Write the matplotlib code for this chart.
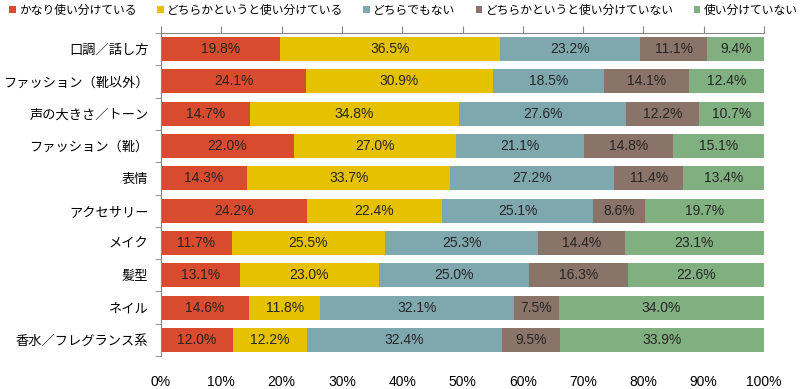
import numpy as np
import matplotlib.pyplot as plt

plt.rcParams['font.family'] = ['Noto Sans CJK JP', 'DejaVu Sans']

# カテゴリ（上から順）
categories = ['口調／話し方', 'ファッション（靴以外）', '声の大きさ／トーン', 'ファッション（靴）',
              '表情', 'アクセサリー', 'メイク', '髪型', 'ネイル', '香水／フレグランス系']

series_names = ['かなり使い分けている', 'どちらかというと使い分けている', 'どちらでもない',
                'どちらかというと使い分けていない', '使い分けていない']

kanari = [19.8, 24.1, 14.7, 22.0, 14.3, 24.2, 11.7, 13.1, 14.6, 12.0]
dochira_yes = [36.5, 30.9, 34.8, 27.0, 33.7, 22.4, 25.5, 23.0, 11.8, 12.2]
dochira_demo = [23.2, 18.5, 27.6, 21.1, 27.2, 25.1, 25.3, 25.0, 32.1, 32.4]
dochira_no = [11.1, 14.1, 12.2, 14.8, 11.4, 8.6, 14.4, 16.3, 7.5, 9.5]
not_use = [9.4, 12.4, 10.7, 15.1, 13.4, 19.7, 23.1, 22.6, 34.0, 33.9]

colors = ['#D84B2E', '#E5C100', '#7FA8AE', '#8A7368', '#80B080']

values = [kanari, dochira_yes, dochira_demo, dochira_no, not_use]

fig = plt.figure(figsize=(8, 3.89), dpi=100)
ax = fig.add_axes([161 / 800, 33 / 389, (764 - 161) / 800, (356 - 33) / 389])

y = np.arange(len(categories))
left = np.zeros(len(categories))
for name, vals, c in zip(series_names, values, colors):
    vals = np.array(vals)
    ax.barh(y, vals, left=left, height=0.74, color=c, label=name)
    for yi, l, v in zip(y, left, vals):
        ax.text(l + v / 2, yi, f'{v:.1f}%', ha='center', va='center',
                fontsize=10, color='#262626', family=['Liberation Sans'])
    left += vals

ax.set_xlim(0, 100)
ax.set_ylim(len(categories) - 0.5, -0.5)
ax.set_yticks(y)
ax.set_yticklabels(categories, fontsize=9.5)
ax.set_yticks(np.arange(len(categories) + 1) - 0.5, minor=True)
ax.tick_params(axis='y', which='major', length=0, pad=9)
ax.tick_params(axis='y', which='minor', length=4, color='#868686')

ax.set_xticks(np.arange(0, 101, 10))
ax.set_xticklabels([f'{t}%' for t in range(0, 101, 10)], fontsize=10, family=['Liberation Sans'])
ax.tick_params(axis='x', top=True, bottom=False, labeltop=False, labelbottom=True,
               direction='out', length=5, color='#868686', pad=9)

for s in ['right', 'bottom']:
    ax.spines[s].set_visible(False)
ax.spines['left'].set_color('#868686')
ax.spines['top'].set_color('#868686')

handles, labels = ax.get_legend_handles_labels()
fig.legend(handles, labels, loc='upper left', bbox_to_anchor=(0.0, 1.015), ncol=5,
           frameon=False, fontsize=8.5, handlelength=0.55, handleheight=0.55,
           handletextpad=0.3, columnspacing=1.7, borderpad=0.3)

plt.savefig('out.png', dpi=100)
